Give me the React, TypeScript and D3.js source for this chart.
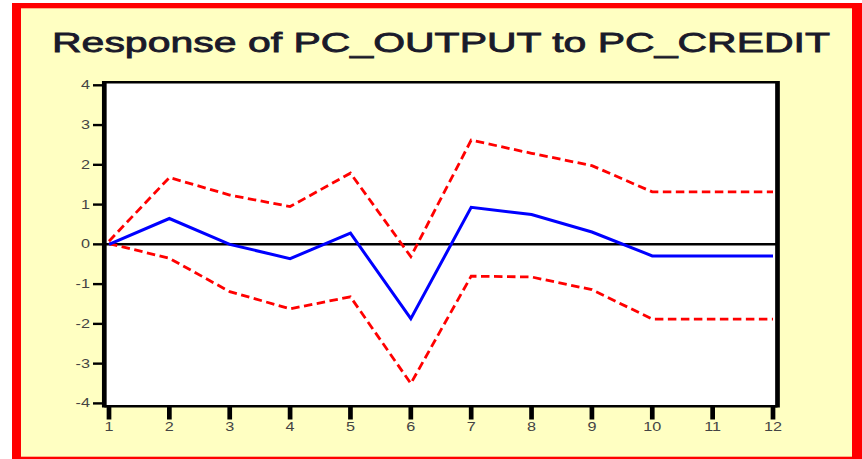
import React from "react";
import * as d3 from "d3";

const periods = [1, 2, 3, 4, 5, 6, 7, 8, 9, 10, 11, 12];
const response = [0.0, 0.65, 0.0, -0.36, 0.28, -1.87, 0.93, 0.75, 0.31, -0.29, -0.29, -0.29];
const upperBand = [0.08, 1.68, 1.24, 0.95, 1.79, -0.31, 2.62, 2.29, 1.98, 1.32, 1.32, 1.32];
const lowerBand = [0.02, -0.35, -1.19, -1.62, -1.32, -3.5, -0.8, -0.82, -1.14, -1.88, -1.88, -1.88];
const yTicks = [4, 3, 2, 1, 0, -1, -2, -3, -4];
const xTickLabels = ["1", "2", "3", "4", "5", "6", "7", "8", "9", "10", "11", "12"];
const title = "Response of PC_OUTPUT to PC_CREDIT";

export default function App() {
  const W = 862;
  const H = 459;
  const x = d3.scaleLinear().domain([1, 12]).range([109, 773]);
  const y = d3.scaleLinear().domain([-4, 4]).range([403.4, 85.3]);
  const line = d3
    .line<number>()
    .x((_, i) => x(periods[i]))
    .y((d) => y(d));

  const plotL = 104.3, plotR = 777.5, plotT = 82.2, plotB = 406.2;
  const font = "'Liberation Sans', Arial, sans-serif";

  return (
    <div style={{ position: "absolute", left: 0, top: 0 }}>
      <svg width={W} height={H} style={{ display: "block" }}>
        <rect x={0} y={0} width={W} height={H} fill="#ffffff" />
        <rect x={12} y={3} width={W - 12} height={H - 3} fill="#ff0000" />
        <rect x={21} y={8.3} width={852 - 21} height={456.7 - 8.3} fill="#ffffc2" />

        <text
          x={441}
          y={51.7}
          textAnchor="middle"
          fontFamily={font}
          fontSize={28}
          fontWeight="normal"
          textLength={778}
          lengthAdjust="spacingAndGlyphs"
          fill="#1a1a2a"
          stroke="#1a1a2a"
          strokeWidth={0.8}
        >
          {title}
        </text>

        {/* plot area */}
        <rect x={plotL} y={plotT} width={plotR - plotL} height={plotB - plotT} fill="#ffffff" />

        {/* zero line */}
        <line x1={plotL} x2={plotR} y1={y(0)} y2={y(0)} stroke="#000" strokeWidth={2.5} />

        {/* bands */}
        <path d={line(upperBand) || ""} fill="none" stroke="#ff0000" strokeWidth={2.8} strokeDasharray="8.5 4.5" />
        <path d={line(lowerBand) || ""} fill="none" stroke="#ff0000" strokeWidth={2.8} strokeDasharray="8.5 4.5" />
        {/* response */}
        <path d={line(response) || ""} fill="none" stroke="#0000ff" strokeWidth={3} />

        {/* frame */}
        <line x1={plotL} x2={plotR} y1={plotT} y2={plotT} stroke="#000" strokeWidth={2.4} />
        <line x1={plotL} x2={plotR} y1={plotB} y2={plotB} stroke="#000" strokeWidth={2.4} />
        <line x1={plotL} x2={plotL} y1={plotT - 1.2} y2={plotB + 1.2} stroke="#000" strokeWidth={4.7} />
        <line x1={plotR} x2={plotR} y1={plotT - 1.2} y2={plotB + 1.2} stroke="#000" strokeWidth={4.7} />

        {/* y ticks */}
        {yTicks.map((t) => (
          <g key={"y" + t}>
            <line x1={93} x2={plotL} y1={y(t)} y2={y(t)} stroke="#000" strokeWidth={2.4} />
            <text
              transform={`translate(90,${y(t) + 4}) scale(1.35,1)`}
              textAnchor="end"
              fontFamily={font}
              fontSize={12}
              fill="#444"
            >
              {t}
            </text>
          </g>
        ))}

        {/* x ticks */}
        {periods.map((p, i) => (
          <g key={"x" + p}>
            <line x1={x(p)} x2={x(p)} y1={plotB} y2={419.5} stroke="#000" strokeWidth={4.7} />
            <text
              transform={`translate(${x(p)},${430.5}) scale(1.35,1)`}
              textAnchor="middle"
              fontFamily={font}
              fontSize={12}
              fill="#444"
            >
              {xTickLabels[i]}
            </text>
          </g>
        ))}
      </svg>
    </div>
  );
}
